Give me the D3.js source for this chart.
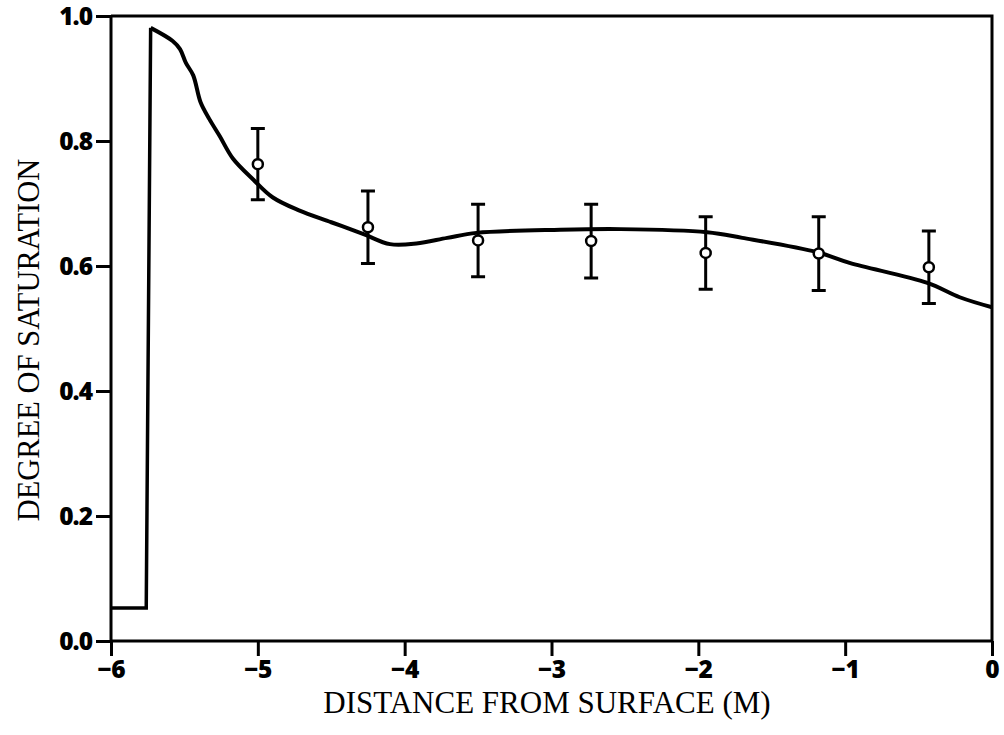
<!DOCTYPE html>
<html>
<head>
<meta charset="utf-8">
<script src="https://cdn.jsdelivr.net/npm/d3@7"></script>
<style>
  html, body { margin: 0; padding: 0; background: #fff; }
  svg { display: block; }
</style>
</head>
<body>
<svg id="chart" width="1004" height="735"></svg>
<script>
// Measured degree of saturation with error bars
const depthObs = [-5.0, -4.25, -3.5, -2.73, -1.95, -1.18, -0.43];
const satObs   = [0.763, 0.662, 0.641, 0.640, 0.621, 0.620, 0.598];
const satErr   = [0.057, 0.058, 0.058, 0.059, 0.058, 0.059, 0.058];

// Simulated profile: dry zone step at the base
const stepDepth = [-6.0, -5.76, -5.73];
const stepSat   = [0.053, 0.053, 0.981];

// Simulated profile: smooth part towards the surface
const curveDepth = [-5.73, -5.58, -5.53, -5.49, -5.44, -5.39, -5.33, -5.26, -5.17, -5.03, -4.90, -4.72, -4.50, -4.28, -4.10, -3.92, -3.71, -3.51, -2.94, -2.53, -1.94, -1.70, -1.19, -0.97, -0.44, -0.22, 0.0];
const curveSat   = [0.981, 0.960, 0.947, 0.925, 0.905, 0.862, 0.835, 0.808, 0.772, 0.738, 0.710, 0.689, 0.670, 0.651, 0.635, 0.636, 0.645, 0.653, 0.658, 0.659, 0.654, 0.645, 0.622, 0.605, 0.573, 0.550, 0.534];

const xTicks = [-6, -5, -4, -3, -2, -1, 0];
const yTicks = [0.0, 0.2, 0.4, 0.6, 0.8, 1.0];

const svg = d3.select("#chart");
const plotLeft = 111, plotRight = 992, plotTop = 16, plotBottom = 641;

const x = d3.scaleLinear().domain([-6, 0]).range([plotLeft, plotRight]);
const y = d3.scaleLinear().domain([0, 1]).range([plotBottom, plotTop]);

const tickFont = "'Open Sans', 'DejaVu Sans', sans-serif";
const titleFont = "'Liberation Serif', 'DejaVu Serif', serif";

// Frame (top and right edges)
svg.append("path")
  .attr("d", `M${x(-6)},${y(1)}H${x(0)}V${y(0)}`)
  .attr("fill", "none").attr("stroke", "#000").attr("stroke-width", 3);

// Axes
const xAxis = d3.axisBottom(x).tickValues(xTicks).tickSize(15).tickPadding(4)
  .tickFormat(d => d === 0 ? "0" : "\u2212" + Math.abs(d));
const yAxis = d3.axisLeft(y).tickValues(yTicks).tickSize(15).tickPadding(4)
  .tickFormat(d3.format(".1f"));

const gx = svg.append("g").attr("transform", `translate(0,${plotBottom})`).call(xAxis);
const gy = svg.append("g").attr("transform", `translate(${plotLeft},0)`).call(yAxis);

[gx, gy].forEach(g => {
  g.select(".domain").attr("stroke", "#000").attr("stroke-width", 3);
  g.selectAll(".tick line").attr("stroke", "#000").attr("stroke-width", 3);
  g.selectAll(".tick text")
    .attr("fill", "#000")
    .style("font-family", tickFont)
    .style("font-weight", "800")
    .style("font-size", "24.5px");
});
gx.select(".domain").attr("d", `M${plotLeft},0H${plotRight}`);
gy.select(".domain").attr("d", `M0,${plotBottom}V${plotTop}`);
// x tick labels: baseline just below the tick marks
gx.selectAll(".tick text").attr("y", 37).attr("dy", "0");
gy.selectAll(".tick text").attr("dy", "0.36em").style("letter-spacing", "-1px");

// Axis titles
svg.append("text")
  .attr("x", 547).attr("y", 713)
  .attr("text-anchor", "middle")
  .style("font-family", titleFont)
  .style("font-size", "31px")
  .text("DISTANCE FROM SURFACE (M)");

svg.append("text")
  .attr("transform", "translate(39,340) rotate(-90)")
  .attr("text-anchor", "middle")
  .style("font-family", titleFont)
  .style("font-size", "30.5px")
  .text("DEGREE OF SATURATION");

// Simulated profile
const stepLine = d3.line().x(d => x(d[0])).y(d => y(d[1])).curve(d3.curveLinear);
svg.append("path")
  .datum(stepDepth.map((d, i) => [d, stepSat[i]]))
  .attr("d", stepLine)
  .attr("fill", "none").attr("stroke", "#000").attr("stroke-width", 3.5)
  .attr("stroke-linejoin", "miter");

const smoothLine = d3.line().x(d => x(d[0])).y(d => y(d[1])).curve(d3.curveCatmullRom.alpha(0.5));
svg.append("path")
  .datum(curveDepth.map((d, i) => [d, curveSat[i]]))
  .attr("d", smoothLine)
  .attr("fill", "none").attr("stroke", "#000").attr("stroke-width", 4)
  .attr("stroke-linejoin", "round");

// Observations with error bars
const obs = depthObs.map((d, i) => ({ d, s: satObs[i], e: satErr[i] }));
const g = svg.append("g");
const capW = 7;
g.selectAll("path.err").data(obs).join("path")
  .attr("class", "err")
  .attr("d", o => {
    const cx = x(o.d), yt = y(o.s + o.e), yb = y(o.s - o.e);
    return `M${cx},${yt}V${yb}M${cx - capW},${yt}H${cx + capW}M${cx - capW},${yb}H${cx + capW}`;
  })
  .attr("fill", "none").attr("stroke", "#000").attr("stroke-width", 3);

g.selectAll("circle").data(obs).join("circle")
  .attr("cx", o => x(o.d)).attr("cy", o => y(o.s)).attr("r", 5)
  .attr("fill", "#fff").attr("stroke", "#000").attr("stroke-width", 2.5);
</script>
</body>
</html>
